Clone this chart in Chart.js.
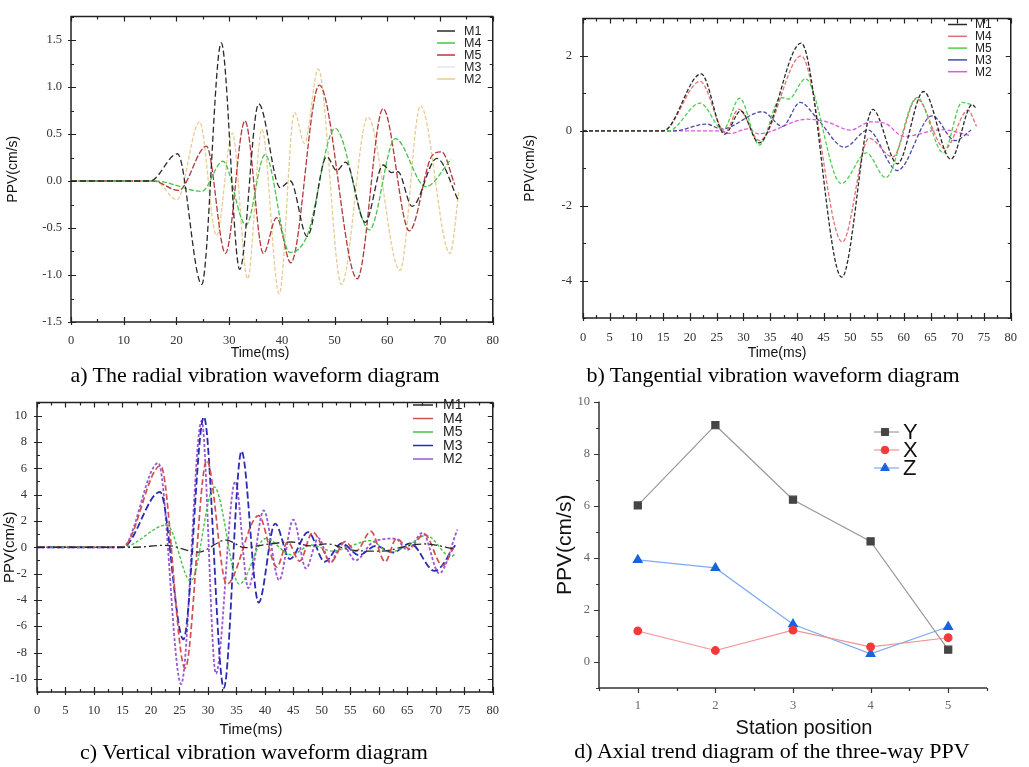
<!DOCTYPE html>
<html><head><meta charset="utf-8">
<script src="https://cdn.jsdelivr.net/npm/chart.js@4.4.1/dist/chart.umd.min.js"></script>
<style>
body{margin:0;background:#fff;width:1029px;height:767px;overflow:hidden;position:relative;font-family:"Liberation Sans",Arial,sans-serif;}
canvas{position:absolute;}
.t{position:absolute;white-space:nowrap;transform:translate(-50%,-50%);color:#111;line-height:1;}
.cap{font-family:"Liberation Serif","Times New Roman",serif;font-size:22px;color:#000;}
</style></head><body>
<canvas id="ca" width="510" height="365" style="left:0;top:0"></canvas>
<canvas id="cb" width="519" height="365" style="left:510px;top:0"></canvas>
<canvas id="cc" width="510" height="355" style="left:0;top:385px"></canvas>
<canvas id="cd" width="519" height="355" style="left:510px;top:385px"></canvas>
<div class="t" style="left:260px;top:352px;font-size:14px">Time(ms)</div>
<div class="t" style="left:777px;top:352px;font-size:14px">Time(ms)</div>
<div class="t" style="left:251px;top:728px;font-size:15px">Time(ms)</div>
<div class="t" style="left:804px;top:727px;font-size:20px">Station position</div>
<div class="t cap" style="left:255px;top:375px">a) The radial vibration waveform diagram</div>
<div class="t cap" style="left:773px;top:375px">b) Tangential vibration waveform diagram</div>
<div class="t cap" style="left:254px;top:752px">c) Vertical vibration waveform diagram</div>
<div class="t cap" style="left:772px;top:751px">d) Axial trend diagram of the three-way PPV</div>
<script>
// ---------- a) radial ----------
const radT_M1 = [0,15,20.2,24.8,28.5,32.0,35.6,39.7,41.6,44.8,48.5,50.4,52.1,55.8,59.2,60.8,62.0,64.7,69.4,73.5];
const radV_M1 = [0,0,0.29,-1.10,1.47,-0.94,0.82,-0.07,0.00,-0.59,0.26,0.11,0.20,-0.44,0.17,0.09,0.10,-0.27,0.24,-0.21];
const radT_M4 = [0,16,24.8,28.8,33.2,36.8,41.5,44.8,50.1,56.6,61.5,67.3,72.1];
const radV_M4 = [0,0,-0.11,0.21,-0.47,0.28,-0.76,-0.58,0.56,-0.52,0.45,-0.06,0.23];
const radT_M5 = [0,15.5,20.4,25.7,29.3,33.0,36.5,39.0,41.7,47.1,54.3,59.2,64.2,68.5,70.3,72.8];
const radV_M5 = [0,0,-0.10,0.37,-0.77,0.64,-0.77,-0.39,-0.87,1.02,-1.04,0.77,-0.53,0.27,0.31,-0.04];
const radT_M3 = [];
const radV_M3 = [];
const radT_M2 = [0,16,20.1,24.4,27.6,30.6,33.5,36.2,39.5,42.4,44.3,46.9,51.3,56.3,62.4,66.3,71.9,73.6];
const radV_M2 = [0,0,-0.20,0.63,-0.58,0.51,-1.04,0.55,-1.20,0.73,0.40,1.19,-1.10,0.68,-0.95,0.80,-0.77,-0.10];
const radXTicks = [0,10,20,30,40,50,60,70,80];
const radYTicks = [-1.5,-1,-0.5,0,0.5,1,1.5];

// ---------- b) tangential ----------
const tanT_M1 = [0,15,22.1,26.5,29.5,32.9,40.8,48.4,54.2,58.8,63.7,68.8,72.8,73.4];
const tanV_M1 = [0,0,1.52,-0.09,0.53,-0.32,2.34,-3.91,0.57,-0.88,1.05,-0.76,0.70,0.62];
const tanT_M4 = [0,15,21.9,26.6,29.1,33.0,40.8,48.5,53.5,57.9,62.4,67.7,72.0,73.6];
const tanV_M4 = [0,0,1.32,-0.03,0.58,-0.26,2.00,-2.97,-0.20,-0.70,0.86,-0.48,0.55,0.12];
const tanT_M5 = [0,16,21.9,26.2,29.3,33.0,37.0,38.5,41.6,48.3,53.0,56.6,62.5,67.4,70.9,72.6];
const tanV_M5 = [0,0,0.74,0.03,0.87,-0.38,0.89,0.85,1.39,-1.41,-0.59,-1.25,0.89,-0.59,0.76,0.70];
const tanT_M3 = [0,17,23.1,25.9,33.6,37.3,40.6,44.0,48.9,53.3,58.8,65.3,69.6,72.6];
const tanV_M3 = [0,0,0.18,0.05,0.51,0.12,0.76,0.29,-0.44,0.02,-1.06,0.40,-0.26,0.02];
const tanT_M2 = [0,25,27.5,30.8,32.8,41.9,45.6,50.0,53.8,56.5,60.0,67.1,72.5];
const tanV_M2 = [0,0,-0.07,0.05,-0.08,0.31,0.24,0.02,0.24,0.20,-0.15,0.03,-0.13];
const tanXTicks = [0,5,10,15,20,25,30,35,40,45,50,55,60,65,70,75,80];
const tanYTicks = [-4,-2,0,2];

// ---------- c) vertical ----------
const verT_M1 = [0,17,22.5,28.3,33.2,36.5,40.0,44.7,48.0,51.0,55.0,60.5,65.0,68.0,73.5];
const verV_M1 = [0,0,0.15,-0.37,0.54,-0.03,0.20,0.40,0.10,0.25,-0.20,-0.30,0.10,0.25,-0.15];
const verT_M4 = [0,15,21.7,26.0,29.8,33.3,38.9,42.1,44.0,46.1,48.4,51.6,54.1,56.0,58.6,61.1,63.1,65.3,68.0,71.2,73.3];
const verV_M4 = [0,0,6.2,-9.2,6.6,-2.8,2.4,-1.5,0.4,-1.05,1.15,-1.1,0.42,-0.3,1.2,-1.1,0.66,-0.1,1.0,-1.4,0.2];
const verT_M5 = [0,15,22.8,27.0,31.1,35.5,40.1,44.7,48.1,52.0,55.0,58.5,61.9,65.0,68.3,72.7,73.5];
const verV_M5 = [0,0,1.69,-2.57,4.58,-2.8,0.66,-0.57,0.17,-0.3,0.1,0.5,-0.37,0.1,0.9,-0.7,-0.5];
const verT_M3 = [0,15,21.6,25.7,29.3,32.8,35.9,38.9,41.8,44.4,47.6,50.5,53.5,56.5,59.5,62.5,65.5,69.8,73.5];
const verV_M3 = [0,0,4.2,-7.0,9.9,-10.7,7.3,-4.2,1.8,-0.9,1.15,-1.1,0.3,-0.6,0.1,-0.4,0.3,-1.8,0.2];
const verT_M2 = [0,15,21.3,25.3,28.9,31.4,34.8,37.1,39.8,42.5,45.0,47.2,49.4,51.5,53.5,55.9,59.0,62.9,65.0,67.7,70.6,73.8];
const verV_M2 = [0,0,6.4,-10.4,9.6,-9.6,5.0,-3.1,2.8,-2.5,2.1,-1.6,0.7,-1.18,0.3,-1.0,0.4,0.66,-0.2,1.1,-1.98,1.35];
const verXTicks = [0,5,10,15,20,25,30,35,40,45,50,55,60,65,70,75,80];
const verYTicks = [-10,-8,-6,-4,-2,0,2,4,6,8,10];

// ---------- d) axial trend ----------
const stations = [1,2,3,4,5];
const ppvY = [6.01,9.09,6.23,4.63,0.47];
const ppvX = [1.19,0.44,1.22,0.58,0.93];
const ppvZ = [3.92,3.61,1.45,0.31,1.35];
const trendYTicks = [0,2,4,6,8,10];

// ---------- plugins ----------
const framePlugin = {
  id: 'frame',
  afterDraw(chart, args, o) {
    const {ctx, chartArea: a} = chart;
    const x = chart.scales.x, y = chart.scales.y;
    ctx.save();
    ctx.strokeStyle = o.color; ctx.lineWidth = o.lw;
    ctx.beginPath();
    if (o.box) ctx.rect(a.left, a.top, a.right - a.left, a.bottom - a.top);
    else { ctx.moveTo(a.left, a.top); ctx.lineTo(a.left, a.bottom); ctx.lineTo(a.right, a.bottom); }
    ctx.stroke();
    ctx.lineWidth = o.tickLw;
    ctx.beginPath();
    const xMaj = x.ticks.map(t => t.value), yMaj = y.ticks.map(t => t.value);
    const tx = (v, inn, out) => {
      const p = Math.round(x.getPixelForValue(v)) + 0.5;
      ctx.moveTo(p, a.bottom + out); ctx.lineTo(p, a.bottom - inn);
      if (o.box) { ctx.moveTo(p, a.top); ctx.lineTo(p, a.top + inn); }
    };
    const ty = (v, inn, out) => {
      const p = Math.round(y.getPixelForValue(v)) + 0.5;
      ctx.moveTo(a.left - out, p); ctx.lineTo(a.left + inn, p);
      if (o.box) { ctx.moveTo(a.right, p); ctx.lineTo(a.right - inn, p); }
    };
    xMaj.forEach(v => tx(v, o.inLen, o.outLen));
    yMaj.forEach(v => ty(v, o.inLen, o.outLen));
    const isMaj = (arr, v) => arr.some(m => Math.abs(m - v) < 1e-6);
    for (let v = x.min; v <= x.max + 1e-9; v += o.xMinor) if (!isMaj(xMaj, v)) tx(v, o.minIn, o.minOut);
    for (let v = y.min; v <= y.max + 1e-9; v += o.yMinor) if (!isMaj(yMaj, v)) ty(v, o.minIn, o.minOut);
    ctx.stroke();
    ctx.restore();
  }
};
const legendPlugin = {
  id: 'mlegend',
  afterDraw(chart, args, o) {
    const ctx = chart.ctx;
    ctx.save();
    chart.data.datasets.forEach((ds, i) => {
      const yy = o.y + i * o.dy;
      ctx.strokeStyle = ds.legendLine || ds.borderColor;
      ctx.lineWidth = o.lw;
      ctx.setLineDash([]);
      ctx.beginPath(); ctx.moveTo(o.x1, yy); ctx.lineTo(o.x2, yy); ctx.stroke();
      if (o.markers && Chart.helpers && Chart.helpers.drawPoint) {
        ctx.fillStyle = ds.pointBackgroundColor; ctx.strokeStyle = ds.pointBorderColor; ctx.lineWidth = 1;
        Chart.helpers.drawPoint(ctx, {pointStyle: ds.pointStyle, radius: ds.pointRadius, rotation: 0, borderWidth: 1}, o.mx, yy);
      }
      ctx.fillStyle = o.color; ctx.font = o.font; ctx.textBaseline = 'middle'; ctx.textAlign = 'left';
      ctx.fillText(ds.label, o.tx, yy + 0.5);
    });
    ctx.restore();
  }
};

const tickFont = {family: '"Liberation Serif", "DejaVu Serif", serif', size: 12.5};
const pts = (t, v) => t.map((tt, i) => ({x: tt, y: v[i]}));

function wave(id, sets, o) {
  return new Chart(document.getElementById(id), {
    type: 'line',
    data: {datasets: sets.map(s => ({
      label: s.label, data: pts(s.t, s.v), borderColor: s.color, borderWidth: s.w || 1.3,
      borderDash: s.dash, pointRadius: 0, fill: false, cubicInterpolationMode: 'monotone'
    }))},
    options: {
      responsive: false, animation: false, devicePixelRatio: 1,
      layout: {padding: {top: o.pt, right: o.pr, left: 0, bottom: 0}},
      plugins: {
        legend: {display: false}, tooltip: {enabled: false},
        frame: {box: true, color: '#222', lw: 1.5, tickLw: 1.2, inLen: 5, outLen: 3, minIn: 3, minOut: 0, xMinor: o.xMinor, yMinor: o.yMinor},
        mlegend: o.legend
      },
      scales: {
        x: {type: 'linear', min: o.xmin, max: o.xmax,
          afterBuildTicks: s => { s.ticks = o.xt.map(v => ({value: v})); },
          afterFit: s => { s.height = o.xh; },
          grid: {display: false, drawTicks: false}, border: {display: false},
          ticks: {padding: o.xpad, font: tickFont, color: '#333', maxRotation: 0, autoSkip: false}},
        y: {type: 'linear', min: o.ymin, max: o.ymax,
          afterBuildTicks: s => { s.ticks = o.yt.map(v => ({value: v})); },
          afterFit: s => { s.width = o.yw; },
          grid: {display: false, drawTicks: false}, border: {display: false},
          ticks: {padding: o.ypad, font: tickFont, color: '#333', autoSkip: false, callback: o.yfmt || (v => String(v))},
          title: {display: true, text: 'PPV(cm/s)', color: '#111',
            font: {family: '"Liberation Sans", Arial, sans-serif', size: o.ytSize}, padding: {top: o.ytPad, bottom: 0}}}
      }
    },
    plugins: [framePlugin, legendPlugin]
  });
}

// a) radial
wave('ca', [
  {label: 'M1', t: radT_M1, v: radV_M1, color: '#2a2a2a', dash: [6, 3]},
  {label: 'M4', t: radT_M4, v: radV_M4, color: '#4cc24c', dash: [5, 2]},
  {label: 'M5', t: radT_M5, v: radV_M5, color: '#b03a3a', dash: [6, 2]},
  {label: 'M3', t: radT_M3, v: radV_M3, color: '#e4e4f6', dash: [5, 2]},
  {label: 'M2', t: radT_M2, v: radV_M2, color: '#e6cc92', dash: [4, 2]}
], {pt: 7, pr: 12, xh: 43, yw: 71, xmin: 0, xmax: 80, ymin: -1.5, ymax: 1.75, xt: radXTicks, yt: radYTicks,
    xMinor: 5, yMinor: 0.25, xpad: 11, ypad: 9, ytSize: 14, ytPad: 5, yfmt: v => v.toFixed(1),
    legend: {x1: 437, x2: 455, tx: 464, y: 31, dy: 12, lw: 1.5, font: '12.5px "Liberation Sans", Arial', color: '#222'}});

// b) tangential
wave('cb', [
  {label: 'M1', t: tanT_M1, v: tanV_M1, color: '#2a2a2a', dash: [4, 2]},
  {label: 'M4', t: tanT_M4, v: tanV_M4, color: '#e07272', dash: [4, 2]},
  {label: 'M5', t: tanT_M5, v: tanV_M5, color: '#4fcf4f', dash: [4, 2]},
  {label: 'M3', t: tanT_M3, v: tanV_M3, color: '#4a4aa8', dash: [4, 2]},
  {label: 'M2', t: tanT_M2, v: tanV_M2, color: '#dd5add', dash: [4, 2]}
], {pt: 8, pr: 12, xh: 47, yw: 73, xmin: 0, xmax: 80, ymin: -5, ymax: 3, xt: tanXTicks, yt: tanYTicks,
    xMinor: 2.5, yMinor: 1, xpad: 12, ypad: 11, ytSize: 14, ytPad: 11.6,
    legend: {x1: 438, x2: 457, tx: 465, y: 24.5, dy: 11.8, lw: 1.5, font: '12px "Liberation Sans", Arial', color: '#222'}});

// c) vertical
wave('cc', [
  {label: 'M1', t: verT_M1, v: verV_M1, color: '#2a2a2a', dash: [8, 3, 2, 3], w: 1.3},
  {label: 'M4', t: verT_M4, v: verV_M4, color: '#d45050', dash: [6, 3], w: 1.7},
  {label: 'M5', t: verT_M5, v: verV_M5, color: '#44c444', dash: [3, 2], w: 1.4},
  {label: 'M3', t: verT_M3, v: verV_M3, color: '#2a2ab4', dash: [7, 3], w: 1.8},
  {label: 'M2', t: verT_M2, v: verV_M2, color: '#9a58d4', dash: [3, 2], w: 1.8}
], {pt: 8, pr: 11, xh: 48, yw: 37, xmin: 0, xmax: 80, ymin: -11, ymax: 11, xt: verXTicks, yt: verYTicks,
    xMinor: 2.5, yMinor: 1, xpad: 11, ypad: 10, ytSize: 15, ytPad: 1.3,
    legend: {x1: 413, x2: 433, tx: 443, y: 20, dy: 13.5, lw: 1.5, font: '14px "Liberation Sans", Arial', color: '#222'}});

// d) axial trend
new Chart(document.getElementById('cd'), {
  type: 'line',
  data: {labels: stations, datasets: [
    {label: 'Y', data: pts(stations, ppvY), borderColor: '#9a9a9a', borderWidth: 1.2, pointStyle: 'rect', pointRadius: 5,
     pointBackgroundColor: '#454545', pointBorderColor: '#454545', tension: 0},
    {label: 'X', data: pts(stations, ppvX), borderColor: '#f29494', borderWidth: 1.2, pointStyle: 'circle', pointRadius: 3.8,
     pointBackgroundColor: '#f23a3a', pointBorderColor: '#f23a3a', tension: 0},
    {label: 'Z', data: pts(stations, ppvZ), borderColor: '#7eaaf0', borderWidth: 1.2, pointStyle: 'triangle', pointRadius: 5,
     pointBackgroundColor: '#1763e0', pointBorderColor: '#1763e0', tension: 0}
  ]},
  options: {
    responsive: false, animation: false, devicePixelRatio: 1,
    layout: {padding: {top: 12, right: 42, left: 0, bottom: 0}},
    plugins: {
      legend: {display: false}, tooltip: {enabled: false},
      frame: {box: false, color: '#333', lw: 1.5, tickLw: 1.2, inLen: 0, outLen: 5, minIn: 0, minOut: 3, xMinor: 0.5, yMinor: 1},
      mlegend: {x1: 364, x2: 389, mx: 375, tx: 393, y: 47, dy: 18, lw: 1.2, markers: true, font: '22px "Liberation Sans", Arial', color: '#111'}
    },
    scales: {
      x: {type: 'linear', min: 0.5, max: 5.5,
        afterBuildTicks: s => { s.ticks = stations.map(v => ({value: v})); },
        afterFit: s => { s.height = 52; },
        grid: {display: false, drawTicks: false}, border: {display: false},
        ticks: {padding: 10, font: tickFont, color: '#666', maxRotation: 0, autoSkip: false}},
      y: {type: 'linear', min: -1, max: 10,
        afterBuildTicks: s => { s.ticks = trendYTicks.map(v => ({value: v})); },
        afterFit: s => { s.width = 89; },
        grid: {display: false, drawTicks: false}, border: {display: false},
        ticks: {padding: 9, font: tickFont, color: '#666', autoSkip: false},
        title: {display: true, text: 'PPV(cm/s)', color: '#111',
          font: {family: '"Liberation Sans", Arial, sans-serif', size: 21}, padding: {top: 42.4, bottom: 0}}}
    }
  },
  plugins: [framePlugin, legendPlugin]
});
</script>
</body></html>
